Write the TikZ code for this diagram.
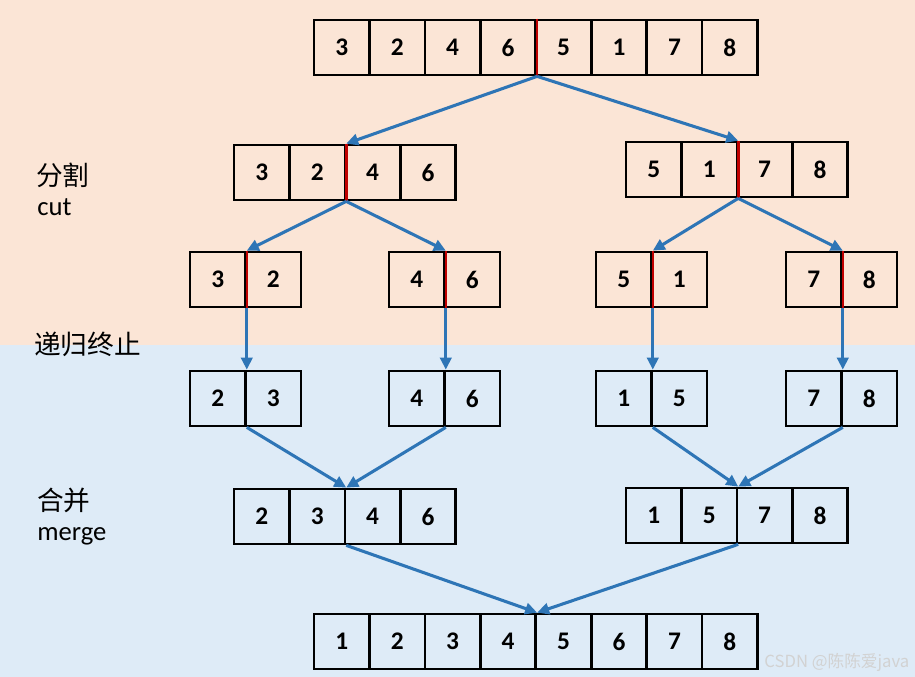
\documentclass[tikz,border=0pt]{standalone}
\usepackage{fontspec}
\setmainfont{Carlito}
\newfontfamily\cjk{Noto Sans CJK SC}
\usepackage{xcolor}
\usepackage{tikz}
\usetikzlibrary{arrows.meta}

\definecolor{peach}{HTML}{FBE5D6}
\definecolor{sky}{HTML}{DEEBF7}
\definecolor{linkblue}{HTML}{2E75B6}
\definecolor{cutred}{HTML}{C00000}

\tikzset{
  cell/.style={draw=black, line width=2pt, minimum width=41.6pt, minimum height=41.3pt,
    inner sep=0pt, font=\bfseries\fontsize{19}{19}\selectfont},
  link/.style={draw=linkblue, line width=2.3pt, -{Triangle[length=9pt,width=8.5pt]}},
  divide/.style={draw=cutred, line width=1.9pt},
  side/.style={font=\cjk\fontsize{20}{24}\selectfont, anchor=west, inner sep=0pt},
  sidelatin/.style={font=\fontsize{20}{24}\selectfont, anchor=base west, inner sep=0pt}
}

% a row of cells: name, left edge, centre y, digits
\newcommand\cellrow[4]{%
  \foreach \d [count=\i] in {#4}
    \node[cell] (#1\i) at ({#2+(\i-0.5)*55.45},#3) {\d};
}

\begin{document}
\begin{tikzpicture}[x=0.75pt,y=-0.75pt]
  \useasboundingbox (0,0) rectangle (915,677);
  \fill[peach] (0,0) rectangle (915,345);
  \fill[sky] (0,345) rectangle (915,677);

  % cut
  \cellrow{top}{314}{47.5}{3,2,4,6,5,1,7,8}
  \cellrow{cl}{234}{172.5}{3,2,4,6}
  \cellrow{cr}{626}{169.5}{5,1,7,8}
  \cellrow{sa}{190}{279.5}{3,2}
  \cellrow{sb}{389}{279.5}{4,6}
  \cellrow{sc}{596}{279.5}{5,1}
  \cellrow{sd}{786}{279.5}{7,8}

  % end of recursion
  \cellrow{ea}{190}{398.5}{2,3}
  \cellrow{eb}{389}{398.5}{4,6}
  \cellrow{ec}{596}{398.5}{1,5}
  \cellrow{ed}{786}{398.5}{7,8}

  % merge
  \cellrow{ml}{234}{516.5}{2,3,4,6}
  \cellrow{mr}{626}{515.5}{1,5,7,8}
  \cellrow{res}{314}{641.5}{1,2,3,4,5,6,7,8}

  \draw[divide] (top4.north east) -- (top4.south east);
  \draw[divide] (cl2.north east) -- (cl2.south east);
  \draw[divide] (cr2.north east) -- (cr2.south east);
  \draw[divide] (sa1.north east) -- (sa1.south east);
  \draw[divide] (sb1.north east) -- (sb1.south east);
  \draw[divide] (sc1.north east) -- (sc1.south east);
  \draw[divide] (sd1.north east) -- (sd1.south east);

  \draw[link] (top4.south east) -- (cl2.north east);
  \draw[link] (top4.south east) -- (cr2.north east);
  \draw[link] (cl2.south east) -- (sa1.north east);
  \draw[link] (cl2.south east) -- (sb1.north east);
  \draw[link] (cr2.south east) -- (sc1.north east);
  \draw[link] (cr2.south east) -- (sd1.north east);

  \draw[link] (sa1.south east) -- (ea1.north east);
  \draw[link] (sb1.south east) -- (eb1.north east);
  \draw[link] (sc1.south east) -- (ec1.north east);
  \draw[link] (sd1.south east) -- (ed1.north east);

  \draw[link] (ea1.south east) -- (ml2.north east);
  \draw[link] (eb1.south east) -- (ml2.north east);
  \draw[link] (ec1.south east) -- (mr2.north east);
  \draw[link] (ed1.south east) -- (mr2.north east);
  \draw[link] (ml2.south east) -- (res4.north east);
  \draw[link] (mr2.south east) -- (res4.north east);

  % labels on the left
  \node[side] (cutzh) at (36,175) {分割};
  \node[sidelatin] (cuten) at (37,216) {cut};
  \node[side] (stopzh) at (34,344.5) {递归终止};
  \node[side] (mergezh) at (37,500) {合并};
  \node[sidelatin] (mergeen) at (37,541) {merge};

  \node[anchor=east, text=gray!35, font=\cjk\fontsize{12.5}{14}\selectfont] (mark) at (914,662) {CSDN @陈陈爱java};
\end{tikzpicture}
\end{document}
